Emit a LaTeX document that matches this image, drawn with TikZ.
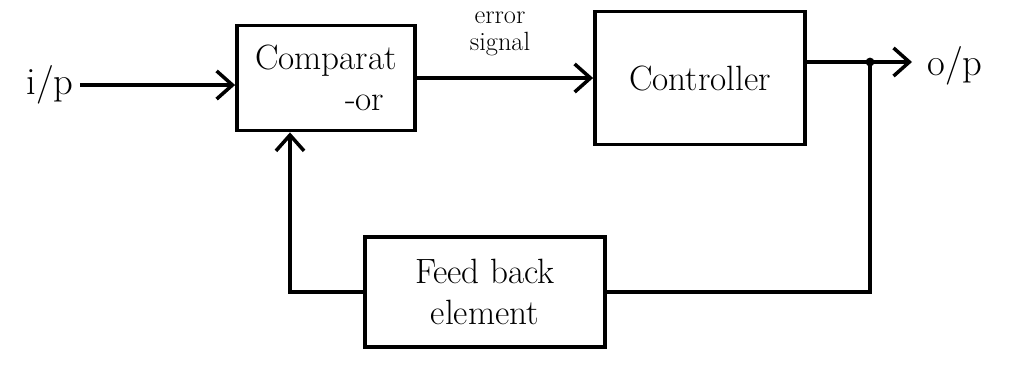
\documentclass[tikz,border=0pt]{standalone}
\usetikzlibrary{arrows.meta}
\begin{document}
\begin{tikzpicture}[x=0.02cm,y=-0.02cm,
  blk/.style={draw,line width=2.2pt,align=center,font=\fontsize{20}{23}\selectfont,inner sep=2pt},
  wire/.style={line width=2pt},
  arr/.style={wire,-{Straight Barb[length=9pt,width=16pt,line width=2pt]}},
  lbl/.style={font=\fontsize{22}{24}\selectfont}]
\useasboundingbox (0,0) rectangle (1020,366);
\node[blk,minimum width=3.56cm,minimum height=2.1cm] (comp) at (326,78) {Comparat\\\hspace*{2.2em}-or};
\node[blk,minimum width=4.2cm,minimum height=2.66cm] (ctrl) at (700,78) {Controller};
\node[blk,minimum width=4.8cm,minimum height=2.2cm] (fb) at (485,292) {Feed back\\element};
\node[lbl] (ip) at (50,85) {i/p};
\node[lbl] (op) at (955,66) {o/p};
\node[font=\fontsize{15}{15}\selectfont,align=center] (err) at (500,34) {error\\signal};
\coordinate (j) at (870,62);
\coordinate (out) at (912,62);
\coordinate (fl) at (290,292);
\draw[arr] (ip.east) -- (comp.west |- ip.east);
\draw[arr] (comp.east) -- (ctrl.west);
\draw[wire] (ctrl.east |- j) -- (j);
\draw[arr] (j) -- (out);
\fill (j) circle [radius=2.5pt];
\draw[wire] (j) -- (j |- fb.east) -- (fb.east);
\draw[arr] (fb.west) -- (fl) -- (fl |- comp.south);
\end{tikzpicture}
\end{document}
